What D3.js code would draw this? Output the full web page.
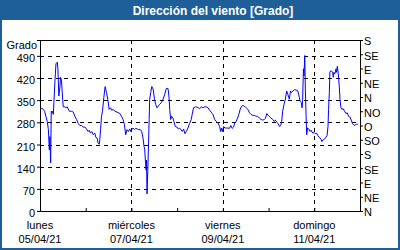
<!DOCTYPE html>
<html lang="es">
    <head>
        <meta charset="utf-8">
        <title>Dirección del viento</title>
        <script type="text/javascript" src="https://d3js.org/d3.v7.min.js"></script>
        <style type="text/css">
            body { margin: 0; background: #fff; }
            svg { display: block; font-family: "Liberation Sans", Arial, sans-serif; }
        </style>
    </head>
    <body>
        <div id="chart"></div>
        <script type="text/javascript">

            // hours since Mon 05/04/21 00:00 and wind direction in degrees
            var hours = [0,1.4,2.4,3.1,3.8,4.4,4.9,5.2,5.6,5.9,6.3,6.6,7.0,7.3,7.9,8.4,9.1,9.4,9.9,10.5,
                10.8,11.3,11.9,12.2,13.1,13.6,14.3,15.4,16.6,17.5,18.3,19.2,20.1,20.9,21.8,22.7,23.6,24.4,25.3,25.8,
                26.5,27.2,27.9,28.8,29.3,30.0,30.5,31.1,31.4,31.8,32.3,32.8,33.5,34.2,34.9,35.6,36.3,37.0,37.7,38.4,
                39.3,40.5,
                41.9,42.8,43.6,44.3,45.0,45.7,46.4,47.1,47.7,48.2,48.9,49.6,50.3,51.0,51.7,52.7,53.4,54.1,54.6,55.0,
                55.3,55.7,55.9,56.2,56.6,56.9,57.3,57.6,58.1,58.7,59.4,60.1,60.7,61.4,62.1,62.8,63.7,64.6,65.5,66.3,
                67.2,67.7,68.1,68.6,69.1,69.8,70.3,71.0,71.9,72.6,73.3,74.0,74.7,75.4,76.1,76.8,77.7,78.5,79.4,79.9,
                80.6,81.7,82.9,
                83.8,84.7,85.5,86.4,87.3,88.2,89.0,89.9,90.8,91.7,92.5,93.4,94.3,94.8,95.3,95.7,96.4,97.1,97.8,98.6,
                99.5,100.2,100.9,101.6,102.3,103.0,103.7,104.4,105.1,105.8,106.5,107.4,108.2,109.1,110.0,110.8,111.7,112.6,113.5,114.3,
                115.2,116.1,117.0,117.8,118.4,119.1,119.8,120.4,121.3,122.2,122.9,123.6,124.3,125.0,
                125.7,126.4,126.9,127.4,128.1,128.8,129.5,130.1,130.6,130.9,131.5,132.0,132.7,133.6,134.4,135.3,135.8,136.5,137.2,137.6,
                137.9,138.3,138.6,139.0,139.3,139.7,140.0,140.5,141.1,141.8,142.3,143.2,143.9,144.5,145.2,145.9,146.6,147.5,148.0,148.7,
                149.4,150.1,150.7,151.2,151.5,151.9,152.2,152.9,153.6,154.0,154.3,154.8,155.4,155.7,156.1,156.6,157.1,157.5,158.0,158.5,
                159.2,159.9,160.6,161.3,162.0,162.7,163.4,164.1,165.0,166.2,166.9];

            var degrees = [326,323,315,299,283,257,193,235,152,315,310,315,305,342,417,465,470,449,363,395,
                422,411,353,329,329,326,329,315,315,312,299,289,276,270,270,265,265,259,251,255,
                246,251,241,246,233,230,214,211,225,257,299,315,358,393,374,353,321,326,318,321,
                315,312,
                308,299,289,273,241,257,251,259,251,257,262,257,261,259,257,257,251,230,204,193,
                161,129,161,54,129,193,289,353,374,393,385,353,337,326,331,337,342,353,369,387,
                387,363,321,289,299,293,283,267,265,259,262,257,251,259,244,251,262,276,289,305,
                326,329,327,
                323,329,326,329,329,326,319,312,305,289,283,278,267,251,262,251,267,262,262,262,
                261,270,261,265,278,283,293,305,321,331,333,331,326,321,310,305,302,302,299,299,
                293,289,287,289,293,308,302,299,293,289,283,287,280,276,
                267,270,283,315,337,353,379,369,358,353,379,374,379,383,382,379,369,347,342,326,
                353,449,427,491,385,299,241,262,259,251,255,246,248,244,246,238,233,227,219,225,
                227,233,238,267,321,374,440,443,438,422,438,433,449,438,457,433,395,353,326,321,
                323,315,308,310,299,297,287,276,270,274,274];

            // axis labels
            var leftTicks = [0,70,140,210,280,350,420,490];
            var compass = ["N","NE","E","SE","S","SO","O","NO"];
            var compassTicks = [0,45,90,135,180,225,270,315,360,405,450,495,540];
            var weekdays = ["lunes","martes","miércoles","jueves","viernes","sábado","domingo"];
            var startDate = new Date(2021, 3, 5);
            var endDate = new Date(2021, 3, 12);

            var data = hours.map(function(h, i) {
                return { date: new Date(startDate.getTime() + h * 3600000), value: degrees[i] };
            });

            var W = 400, H = 250;
            var margin = {top: 40, right: 40, bottom: 39, left: 40},
                width = W - margin.left - margin.right,
                height = 211 - margin.top;

            var frame = "#1f5f99";

            var root = d3.select("#chart")
                .append("svg")
                    .attr("width", W)
                    .attr("height", H);

            // outer frame and title bar
            root.append("rect")
                .attr("x", 1).attr("y", 1)
                .attr("width", W - 2).attr("height", H - 2)
                .attr("fill", "#fff")
                .attr("stroke", frame)
                .attr("stroke-width", 2);
            root.append("rect")
                .attr("x", 0).attr("y", 0)
                .attr("width", W).attr("height", 20)
                .attr("fill", frame);
            root.append("text")
                .attr("x", 213).attr("y", 15)
                .attr("text-anchor", "middle")
                .attr("fill", "#fff")
                .attr("font-weight", "bold")
                .attr("font-size", "12px")
                .text("Dirección del viento [Grado]");

            var svg = root.append("g")
                .attr("transform", "translate(" + margin.left + "," + margin.top + ")");

            var x = d3.scaleTime()
                .domain([startDate, endDate])
                .range([0, width]);

            var y = d3.scaleLinear()
                .domain([0, 540])
                .range([height, 0]);

            // dashed grid
            svg.append("g")
                .selectAll("line")
                .data(leftTicks.slice(1))
                .enter().append("line")
                    .attr("x1", 0).attr("x2", width)
                    .attr("y1", function(d) { return Math.round(y(d)) + 0.5; })
                    .attr("y2", function(d) { return Math.round(y(d)) + 0.5; })
                    .attr("stroke", "#000")
                    .attr("stroke-dasharray", "4,4");

            var majorDays = d3.timeDay.every(2).range(startDate, endDate);
            svg.append("g")
                .selectAll("line")
                .data(majorDays.slice(1))
                .enter().append("line")
                    .attr("x1", function(d) { return Math.round(x(d)) + 0.5; })
                    .attr("x2", function(d) { return Math.round(x(d)) + 0.5; })
                    .attr("y1", 0).attr("y2", height)
                    .attr("stroke", "#000")
                    .attr("stroke-dasharray", "4,4");

            // top border
            svg.append("line")
                .attr("x1", 0).attr("x2", width)
                .attr("y1", 0.5).attr("y2", 0.5)
                .attr("stroke", "#000");

            // the line
            svg.append("path")
                .datum(data)
                .attr("fill", "none")
                .attr("stroke", "#0000ff")
                .attr("stroke-width", 1)
                .attr("d", d3.line()
                    .x(function(d) { return x(d.date); })
                    .y(function(d) { return y(d.value); })
                );

            // left axis
            var yAxis = svg.append("g")
                .call(d3.axisLeft(y).tickValues(leftTicks).tickSize(3).tickPadding(2));
            yAxis.selectAll("text").attr("font-size", "11px").attr("fill", "#000")
                .attr("font-family", null).attr("dy", "0.5em");
            svg.append("text")
                .attr("x", -3).attr("y", 9)
                .attr("text-anchor", "end")
                .attr("font-size", "11px")
                .text("Grado");

            // right axis with compass points
            var yAxisRight = svg.append("g")
                .attr("transform", "translate(" + width + ",0)")
                .call(d3.axisRight(y).tickValues(compassTicks).tickSize(3).tickPadding(1)
                    .tickFormat(function(d) { return compass[(d / 45) % 8]; }));
            yAxisRight.selectAll("text").attr("font-size", "11px").attr("fill", "#000")
                .attr("font-family", null).attr("dy", "0.45em");

            // bottom axis, ticks inward every day
            var xAxis = svg.append("g")
                .attr("transform", "translate(0," + height + ")")
                .call(d3.axisBottom(x).ticks(d3.timeDay.every(1)).tickSize(-3).tickFormat(""));
            xAxis.select(".domain").attr("d", "M0.5,0.5H" + width);

            var labels = svg.append("g")
                .attr("font-size", "11px")
                .selectAll("text")
                .data(majorDays)
                .enter().append("text")
                    .attr("x", function(d) { return x(d); })
                    .attr("y", height + 18)
                    .attr("text-anchor", "middle");
            labels.append("tspan")
                .attr("x", function(d) { return x(d); })
                .text(function(d) { return weekdays[(d.getDay() + 6) % 7]; });
            labels.append("tspan")
                .attr("x", function(d) { return x(d); })
                .attr("dy", 14)
                .text(d3.timeFormat("%d/%m/%y"));

            svg.selectAll(".domain").attr("stroke", "#000");
        </script>
    </body>
</html>
